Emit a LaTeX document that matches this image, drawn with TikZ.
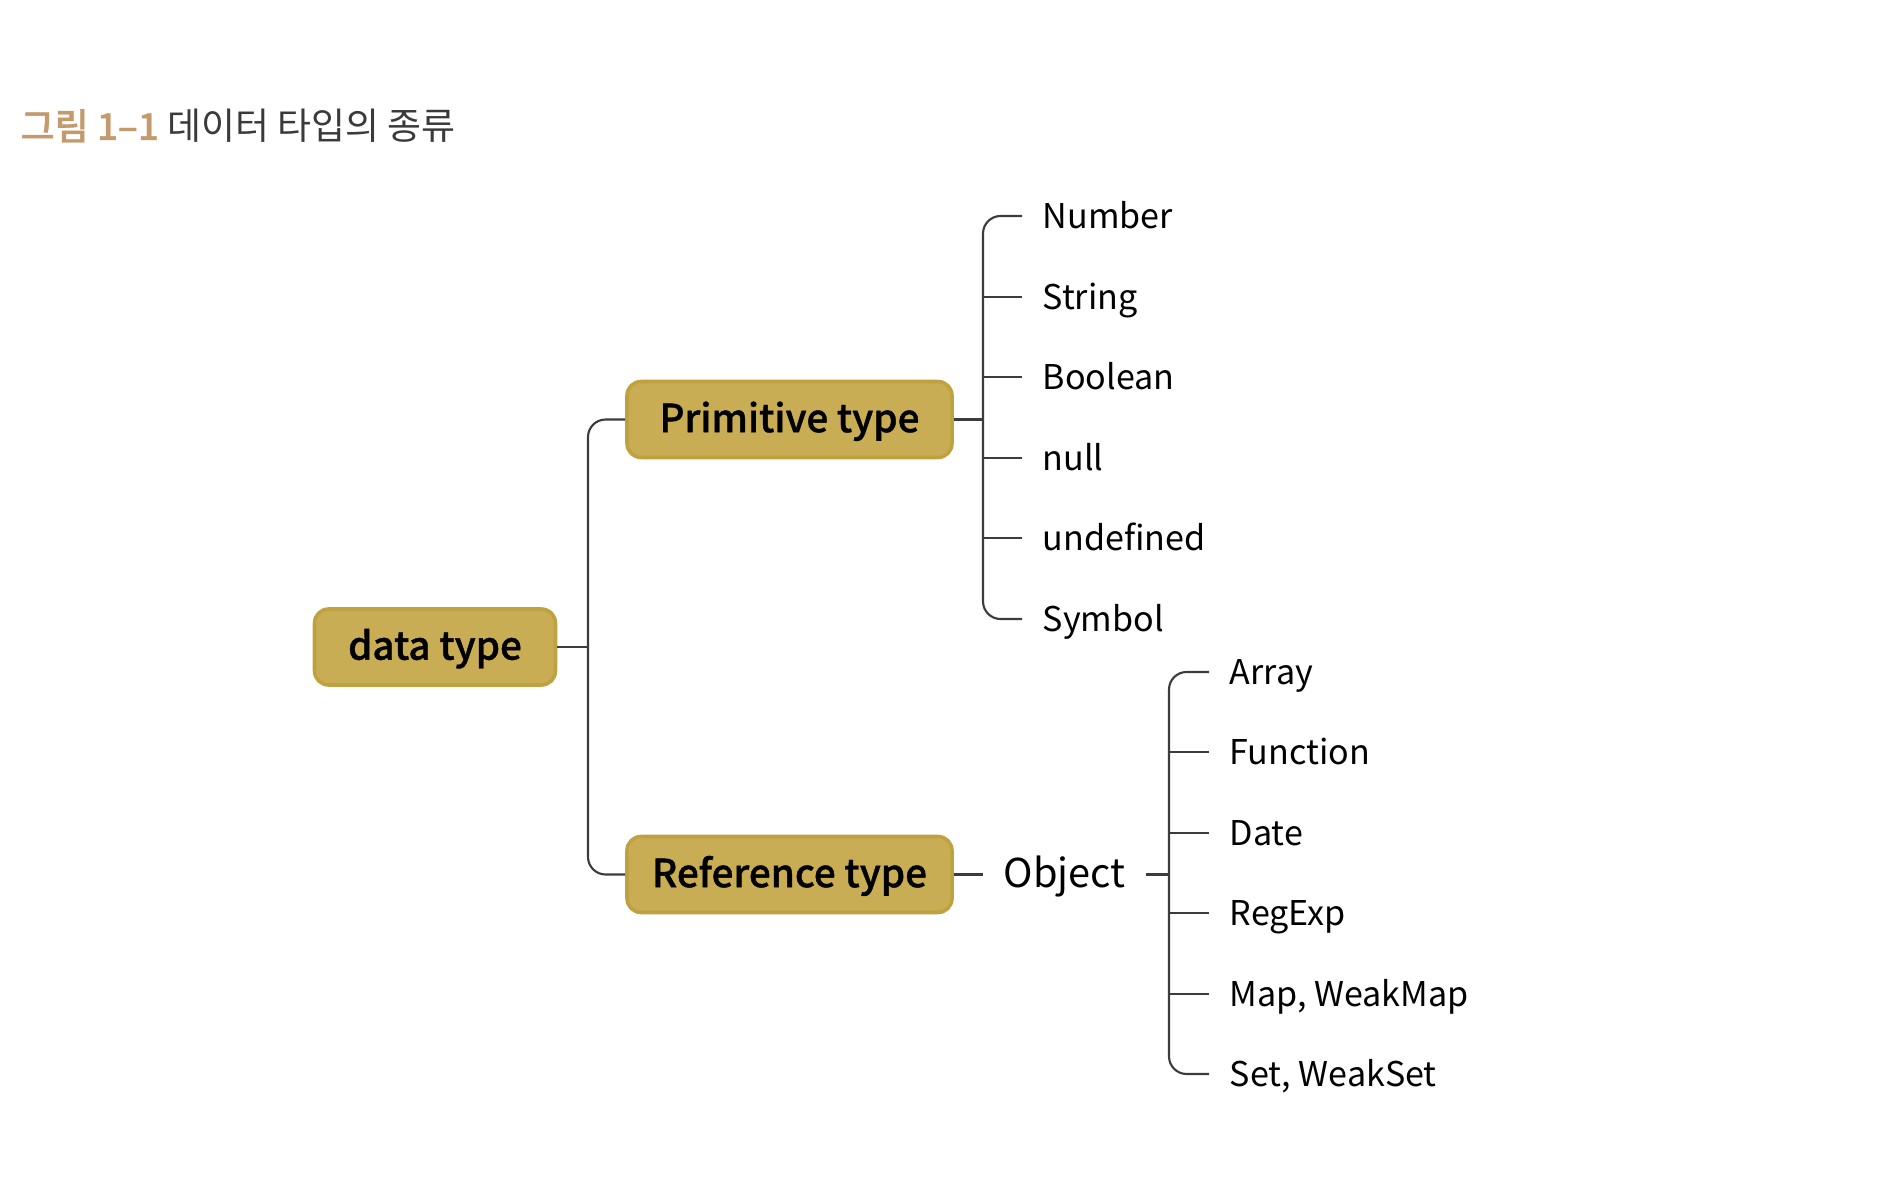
\documentclass[tikz,border=0pt]{standalone}
\usepackage{fontspec}
\setmainfont{Noto Sans CJK KR}
\newfontfamily\medfont{Noto Sans CJK KR Medium}
\newfontfamily\boxfont{Noto Sans CJK KR Medium}[FakeBold=1]
\usepackage{xcolor}
\usetikzlibrary{positioning, calc}

\definecolor{boxfill}{HTML}{C8AD55}
\definecolor{boxline}{HTML}{BFA140}
\definecolor{figtan}{HTML}{C49A6C}
\definecolor{figgray}{HTML}{3A3A3A}
\definecolor{wire}{HTML}{3C3C3C}

\begin{document}
\begin{tikzpicture}[
  box/.style  = {rectangle, rounded corners=4pt, draw=boxline, line width=1pt,
                 fill=boxfill, font=\fontsize{11}{13}\selectfont\boxfont,
                 minimum height=0.76cm, inner sep=0pt,
                 text height=0.9em, text depth=0.18em},
  leaf/.style = {anchor=west, font=\fontsize{9.7}{12}\selectfont,
                 inner xsep=0.2cm, inner ysep=0.05cm,
                 text height=0.9em, text depth=0.18em},
  conn/.style = {draw=wire, line width=0.6pt}
]
\useasboundingbox (0,0) rectangle (18.84,-11.78);

%% Title
\node[anchor=west, inner sep=0, font=\fontsize{10.5}{12}\selectfont] (title) at (0.2,-1.26)
  {\textcolor{figtan}{\boxfont 그림 1–1}\ \textcolor{figgray}{데이터 타입의 종류}};

%% --- Main boxes ---
\node[box, minimum width=2.41cm] (data) at (4.35,-6.47)  {data type};
\node[box, minimum width=3.25cm] (prim) at (7.895,-4.195) {Primitive type};
\node[box, minimum width=3.25cm] (ref)  at (7.895,-8.745) {Reference type};

%% --- Junctions ---
\coordinate (dj) at (5.88,-6.47);
\coordinate (pj) at (9.83,-4.195);
\coordinate (oj) at (11.69,-8.745);

%% --- Primitive types ---
\node[leaf] (num)  at (10.22,-2.16) {Number};
\node[leaf] (str)  at (10.22,-2.97) {String};
\node[leaf] (bool) at (10.22,-3.77) {Boolean};
\node[leaf] (nul)  at (10.22,-4.58) {null};
\node[leaf] (und)  at (10.22,-5.38) {undefined};
\node[leaf] (sym)  at (10.22,-6.19) {Symbol};

%% --- Object and its kinds ---
\node[leaf, font=\fontsize{11.3}{14}\selectfont, inner xsep=0.2cm] (obj) at (9.83,-8.745) {Object};
\node[leaf] (arr)  at (12.09,-6.72)  {Array};
\node[leaf] (fun)  at (12.09,-7.52)  {Function};
\node[leaf] (date) at (12.09,-8.33)  {Date};
\node[leaf] (reg)  at (12.09,-9.13)  {RegExp};
\node[leaf] (map)  at (12.09,-9.94)  {Map, WeakMap};
\node[leaf] (set)  at (12.09,-10.74) {Set, WeakSet};

%% --- data type connections ---
\draw[conn] (data.east) -- (dj);
\draw[conn, rounded corners=5pt] (prim.west) -| (dj) |- (ref.west);

%% --- Primitive connections ---
\draw[conn] (prim.east) -- (pj);
\draw[conn, rounded corners=5pt] (num.west) -| (pj) |- (sym.west);
\draw[conn] (str.west)  -- (str.west -| pj);
\draw[conn] (bool.west) -- (bool.west -| pj);
\draw[conn] (nul.west)  -- (nul.west -| pj);
\draw[conn] (und.west)  -- (und.west -| pj);

%% --- Reference connections ---
\draw[conn] (ref.east) -- (obj.west);
\draw[conn] (obj.east) -- (oj);
\draw[conn, rounded corners=5pt] (arr.west) -| (oj) |- (set.west);
\draw[conn] (fun.west)  -- (fun.west -| oj);
\draw[conn] (date.west) -- (date.west -| oj);
\draw[conn] (reg.west)  -- (reg.west -| oj);
\draw[conn] (map.west)  -- (map.west -| oj);
\end{tikzpicture}
\end{document}
